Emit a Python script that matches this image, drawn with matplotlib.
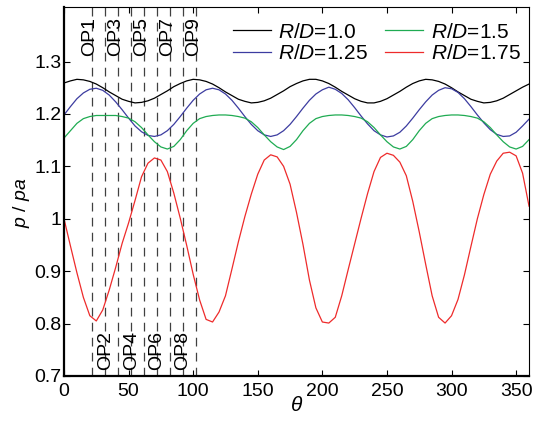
import numpy as np
import matplotlib
matplotlib.use('Agg')
import matplotlib.pyplot as plt

plt.rcParams['font.family'] = ['Liberation Sans', 'DejaVu Sans']
plt.rcParams['mathtext.fontset'] = 'custom'
plt.rcParams['mathtext.rm'] = 'Liberation Sans'
plt.rcParams['mathtext.it'] = 'Liberation Sans:italic'

# crank angle, 0..360 step 5
theta = np.arange(0, 361, 5)

# R/D = 1.0
p_10 = [1.259, 1.263, 1.266, 1.265, 1.262, 1.257, 1.250, 1.242, 1.235, 1.228,
        1.224, 1.221, 1.222, 1.225, 1.230, 1.237, 1.244, 1.252, 1.258, 1.263,
        1.266, 1.265, 1.262, 1.257, 1.250, 1.242, 1.235, 1.228, 1.224, 1.221,
        1.222, 1.225, 1.230, 1.237, 1.244, 1.252, 1.258, 1.263, 1.266, 1.266,
        1.263, 1.258, 1.251, 1.243, 1.236, 1.229, 1.224, 1.221, 1.221, 1.224,
        1.229, 1.236, 1.243, 1.251, 1.258, 1.263, 1.266, 1.265, 1.262, 1.257,
        1.250, 1.242, 1.235, 1.228, 1.224, 1.221, 1.222, 1.225, 1.230, 1.237,
        1.244, 1.251, 1.257]

# R/D = 1.25
p_125 = [1.198, 1.214, 1.229, 1.240, 1.247, 1.249, 1.245, 1.236, 1.223, 1.208,
         1.192, 1.177, 1.166, 1.159, 1.157, 1.160, 1.168, 1.180, 1.195, 1.211,
         1.226, 1.238, 1.246, 1.249, 1.246, 1.238, 1.226, 1.211, 1.195, 1.180,
         1.168, 1.160, 1.157, 1.160, 1.168, 1.180, 1.195, 1.211, 1.226, 1.238,
         1.246, 1.251, 1.247, 1.239, 1.227, 1.212, 1.196, 1.181, 1.168, 1.160,
         1.156, 1.158, 1.165, 1.177, 1.192, 1.208, 1.223, 1.236, 1.245, 1.250,
         1.248, 1.241, 1.229, 1.214, 1.198, 1.183, 1.170, 1.161, 1.157, 1.158,
         1.165, 1.177, 1.190]

# R/D = 1.5
p_15 = [1.154, 1.168, 1.182, 1.191, 1.195, 1.197, 1.197, 1.197, 1.197, 1.195,
        1.192, 1.185, 1.174, 1.160, 1.147, 1.137, 1.133, 1.138, 1.151, 1.168,
        1.182, 1.191, 1.195, 1.197, 1.198, 1.198, 1.197, 1.195, 1.192, 1.185,
        1.174, 1.160, 1.147, 1.137, 1.132, 1.138, 1.151, 1.168, 1.182, 1.191,
        1.195, 1.197, 1.198, 1.198, 1.197, 1.195, 1.192, 1.185, 1.174, 1.160,
        1.147, 1.137, 1.133, 1.138, 1.151, 1.168, 1.182, 1.191, 1.195, 1.197,
        1.198, 1.198, 1.197, 1.195, 1.192, 1.185, 1.174, 1.160, 1.147, 1.137,
        1.133, 1.138, 1.151]

# R/D = 1.75
p_175 = [1.000, 0.948, 0.897, 0.850, 0.815, 0.805, 0.826, 0.864, 0.907, 0.953,
         0.992, 1.035, 1.080, 1.106, 1.116, 1.112, 1.090, 1.049, 1.001, 0.949,
         0.894, 0.845, 0.808, 0.803, 0.822, 0.853, 0.904, 0.956, 1.004, 1.047,
         1.085, 1.112, 1.122, 1.118, 1.100, 1.066, 1.012, 0.951, 0.883, 0.830,
         0.803, 0.801, 0.812, 0.853, 0.903, 0.952, 1.001, 1.048, 1.090, 1.117,
         1.125, 1.121, 1.108, 1.082, 1.033, 0.975, 0.913, 0.853, 0.812, 0.801,
         0.815, 0.846, 0.893, 0.947, 1.000, 1.046, 1.085, 1.110, 1.125, 1.127,
         1.120, 1.087, 1.024]

op_pos = [22, 32, 42, 52, 62, 72, 82, 92, 102]
op_names = ['OP1', 'OP2', 'OP3', 'OP4', 'OP5', 'OP6', 'OP7', 'OP8', 'OP9']

fig = plt.figure(figsize=(5.36, 4.21), dpi=100)
ax = fig.add_axes([0.1194, 0.1069, 0.8676, 0.8765])

ax.plot(theta, p_10, color='black', lw=0.9, label=r'$R/D$=1.0')
ax.plot(theta, p_125, color='#3c3ca0', lw=0.9, label=r'$R/D$=1.25')
ax.plot(theta, p_15, color='#1fab52', lw=0.9, label=r'$R/D$=1.5')
ax.plot(theta, p_175, color='#ee2b2b', lw=0.9, label=r'$R/D$=1.75')

# operating points
for i, (x, name) in enumerate(zip(op_pos, op_names)):
    ax.axvline(x, color='#404040', lw=0.9, ls=(0, (7, 5)), zorder=0)
    if i % 2 == 0:
        ax.text(x - 2, 1.311, name, rotation=90, ha='center', va='bottom', fontsize=14)
    else:
        ax.text(x, 0.711, name, rotation=90, ha='center', va='bottom', fontsize=14)

ax.set_xlim(0, 360)
ax.set_ylim(0.7, 1.404)
ax.set_xticks(np.arange(0, 351, 50))
ax.set_yticks([0.7, 0.8, 0.9, 1.0, 1.1, 1.2, 1.3])
ax.set_yticklabels(['0.7', '0.8', '0.9', '1', '1.1', '1.2', '1.3'])
ax.tick_params(direction='in', top=True, right=True, length=4, labelsize=14)
ax.tick_params(axis='y', pad=2)
ax.tick_params(axis='x', pad=5)

ax.set_xlabel(r'$\theta$', fontsize=15, labelpad=-3)
ax.set_ylabel(r'$p$ / $pa$', fontsize=14)
ax.yaxis.set_label_coords(-0.068, 0.47)

ax.spines['left'].set_linewidth(1.6)
ax.spines['bottom'].set_linewidth(1.6)
ax.spines['top'].set_linewidth(0.8)
ax.spines['right'].set_linewidth(0.8)

ax.legend(ncol=2, frameon=False, loc='upper right', bbox_to_anchor=(1.0, 0.98),
          fontsize=15, handlelength=1.85, handletextpad=0.35, columnspacing=0.8,
          labelspacing=0.12, borderaxespad=0.2, borderpad=0.2)

plt.savefig('out.png', dpi=100)
plt.close('all')
